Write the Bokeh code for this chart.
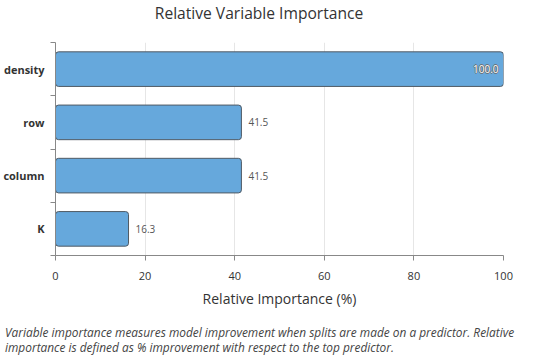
from bokeh.plotting import figure
from bokeh.models import ColumnDataSource, Range1d, FixedTicker, Div
from bokeh.layouts import column
from bokeh.core.properties import value
from bokeh.embed import file_html
from bokeh.resources import INLINE

predictors = ["density", "row", "column", "K"]
importance = [100.0, 41.5, 41.5, 16.3]
x_ticks = [0, 20, 40, 60, 80, 100]

n = len(predictors)
ypos = [n - 1 - i for i in range(n)]
labels = ["%.1f" % v for v in importance]

src = ColumnDataSource(dict(y=ypos, v=importance, lab=labels))
big = [i for i in range(n) if importance[i] >= 90]
small = [i for i in range(n) if importance[i] < 90]
inside = ColumnDataSource(dict(y=[ypos[i] for i in big], v=[importance[i] for i in big],
                               lab=[labels[i] for i in big]))
outside = ColumnDataSource(dict(y=[ypos[i] for i in small], v=[importance[i] for i in small],
                                lab=[labels[i] for i in small]))

FONT = "Open Sans"

title = Div(text="Relative Variable Importance", width=534, height=16,
            styles={"font-family": FONT, "font-size": "15.6px", "color": "#333333",
                    "line-height": "16px", "text-align": "center",
                    "padding-right": "26px", "box-sizing": "border-box", "width": "534px"})

p = figure(frame_width=448, frame_height=213, output_backend="svg", toolbar_location=None,
           x_range=Range1d(0, 100), y_range=Range1d(-0.5, n - 0.5),
           min_border_left=47, min_border_right=39, min_border_top=16, min_border_bottom=2)

p.hbar(y="y", right="v", left=0, height=0.65, source=src,
       fill_color="#66A8DC", line_color="#505a64", line_width=1, border_radius=3)

p.text(x="v", y="y", text="lab", source=outside, x_offset=7,
       text_align="left", text_baseline="middle", text_font=value(FONT),
       text_font_size="10px", text_color="#555555")
# halo for the label inside the longest bar
for dx, dy in [(-0.7, 0), (0.7, 0), (0, -0.7), (0, 0.7)]:
    p.text(x="v", y="y", text="lab", source=inside, x_offset=-5 + dx, y_offset=dy,
           text_align="right", text_baseline="middle", text_font=value(FONT),
           text_font_size="10px", text_color="#6b6b6b")
p.text(x="v", y="y", text="lab", source=inside, x_offset=-5,
       text_align="right", text_baseline="middle", text_font=value(FONT),
       text_font_size="10px", text_color="white")

p.outline_line_color = None
p.ygrid.grid_line_color = None
p.xgrid.grid_line_color = "#e6e6e6"
p.xgrid.ticker = FixedTicker(ticks=x_ticks)

p.xaxis.ticker = FixedTicker(ticks=x_ticks)
p.xaxis.axis_label = "Relative Importance (%)"
p.xaxis.axis_label_text_font = FONT
p.xaxis.axis_label_text_font_size = "14px"
p.xaxis.axis_label_text_font_style = "normal"
p.xaxis.axis_label_text_color = "#333333"
p.xaxis.axis_label_standoff = 6
p.xaxis.major_label_text_font = FONT
p.xaxis.major_label_text_font_size = "11px"
p.xaxis.major_label_text_color = "#333333"
p.xaxis.major_label_standoff = 11
p.xaxis.major_tick_out = 5
p.xaxis.major_tick_in = 0
p.xaxis.minor_tick_line_color = None
p.xaxis.axis_line_color = "#888888"
p.xaxis.major_tick_line_color = "#888888"

p.yaxis.ticker = FixedTicker(ticks=ypos, minor_ticks=[k - 0.5 for k in range(n + 1)])
p.yaxis.major_label_overrides = {ypos[i]: predictors[i] for i in range(n)}
p.yaxis.major_label_text_font = FONT
p.yaxis.major_label_text_font_size = "11px"
p.yaxis.major_label_text_font_style = "bold"
p.yaxis.major_label_text_color = "#333333"
p.yaxis.major_label_standoff = 6
p.yaxis.major_tick_out = 0
p.yaxis.major_tick_in = 0
p.yaxis.major_tick_line_color = None
p.yaxis.minor_tick_out = 5
p.yaxis.minor_tick_in = 0
p.yaxis.minor_tick_line_color = "#888888"
p.yaxis.axis_line_color = "#888888"

note = Div(text="Variable importance measures model improvement when splits are made on a predictor. Relative importance is defined as % improvement with respect to the top predictor.",
           width=540, styles={"font-family": FONT, "font-style": "italic", "font-size": "11.9px",
                              "color": "#444444", "line-height": "15px",
                              "margin-top": "15px"})

layout = column(title, p, note, spacing=0)
open("out.html", "w").write(file_html(layout, INLINE))
